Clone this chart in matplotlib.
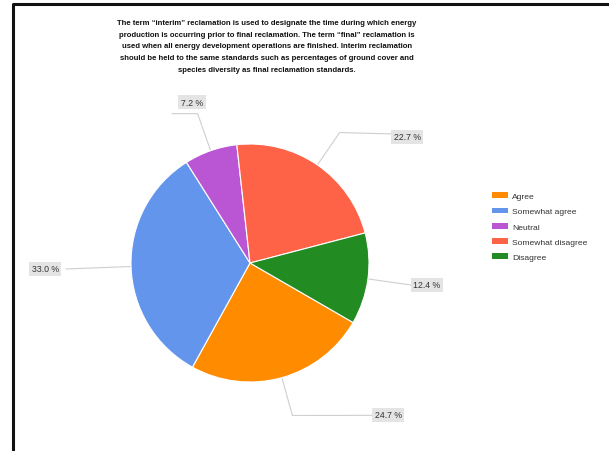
import numpy as np
import matplotlib
matplotlib.use("Agg")
import matplotlib.pyplot as plt
from matplotlib.patches import Patch
from matplotlib.lines import Line2D

# Survey responses
categories = ["Agree", "Somewhat agree", "Neutral", "Somewhat disagree", "Disagree"]
shares = [24.7, 33.0, 7.2, 22.7, 12.4]
colors = ["#ff8c00", "#6495ed", "#ba55d3", "#ff6347", "#228b22"]

title = ("The term \u201cinterim\u201d reclamation is used to designate the time during which energy\n"
         "production is occurring prior to final reclamation. The term \u201cfinal\u201d reclamation is\n"
         "used when all energy development operations are finished. Interim reclamation\n"
         "should be held to the same standards such as percentages of ground cover and\n"
         "species diversity as final reclamation standards.")

W, H = 609, 452
plt.rcParams["font.family"] = ["Liberation Sans", "DejaVu Sans"]

fig = plt.figure(figsize=(W / 100, H / 100), dpi=100)
ax = fig.add_axes([0, 0, 1, 1])

cx, cy, R = 250, H - 264, 119
wedges, _ = ax.pie(shares, colors=colors, startangle=-30, counterclock=False,
                   center=(cx, cy), radius=R,
                   wedgeprops=dict(edgecolor="white", linewidth=0.8))
ax.set_xlim(0, W)
ax.set_ylim(0, H)
ax.set_aspect("equal")
ax.axis("off")

# leader layout per slice: elbow radius (x R), label x, label y (pixels from top), line end x
label_layout = [
    (1.33, 388, 416, 374),
    (1.00, 45, 270, 66),
    (1.33, 192, 103, 172),
    (1.33, 407, 138, 392),
    (1.00, 427, 286, 411),
]

for w, val, (er, lx, ly, ex) in zip(wedges, shares, label_layout):
    mid = np.deg2rad((w.theta1 + w.theta2) / 2)
    p0 = (cx + R * np.cos(mid), cy + R * np.sin(mid))
    p1 = (cx + er * R * np.cos(mid), cy + er * R * np.sin(mid))
    ty = H - ly
    line_y = ty if er <= 1.0 else p1[1] + (ty - p1[1]) * 0.3
    if val < 10:
        line_y = p1[1]
    ax.add_line(Line2D([p0[0], p1[0], ex], [p0[1], p1[1], line_y],
                       color="#cfcfcf", lw=0.8, zorder=0))
    ax.text(lx, ty, f"{val:.1f} %", ha="center", va="center", fontsize=6.3,
            color="#333333",
            bbox=dict(boxstyle="square,pad=0.3", facecolor="#e4e4e4", edgecolor="none"))

fig.text(267 / W, 1 - 20 / H, title, ha="center", va="top", fontsize=5.6,
         fontweight="bold", color="#111111", linespacing=1.95)

handles = [Patch(facecolor=c, edgecolor="none") for c in colors]
leg = fig.legend(handles, categories, loc="upper left",
                 bbox_to_anchor=(489 / W, 1 - 190 / H), frameon=False,
                 fontsize=6.1, handlelength=1.9, handleheight=0.7,
                 handletextpad=0.45, labelspacing=0.85, borderaxespad=0)
for t in leg.get_texts():
    t.set_color("#333333")

# frame on the left and top edges
fig.add_artist(Line2D([13 / W, 13 / W, 1], [0, 1 - 5 / H, 1 - 5 / H],
                      transform=fig.transFigure, color="#111111", lw=2.2))

fig.savefig("out.png", dpi=100)
